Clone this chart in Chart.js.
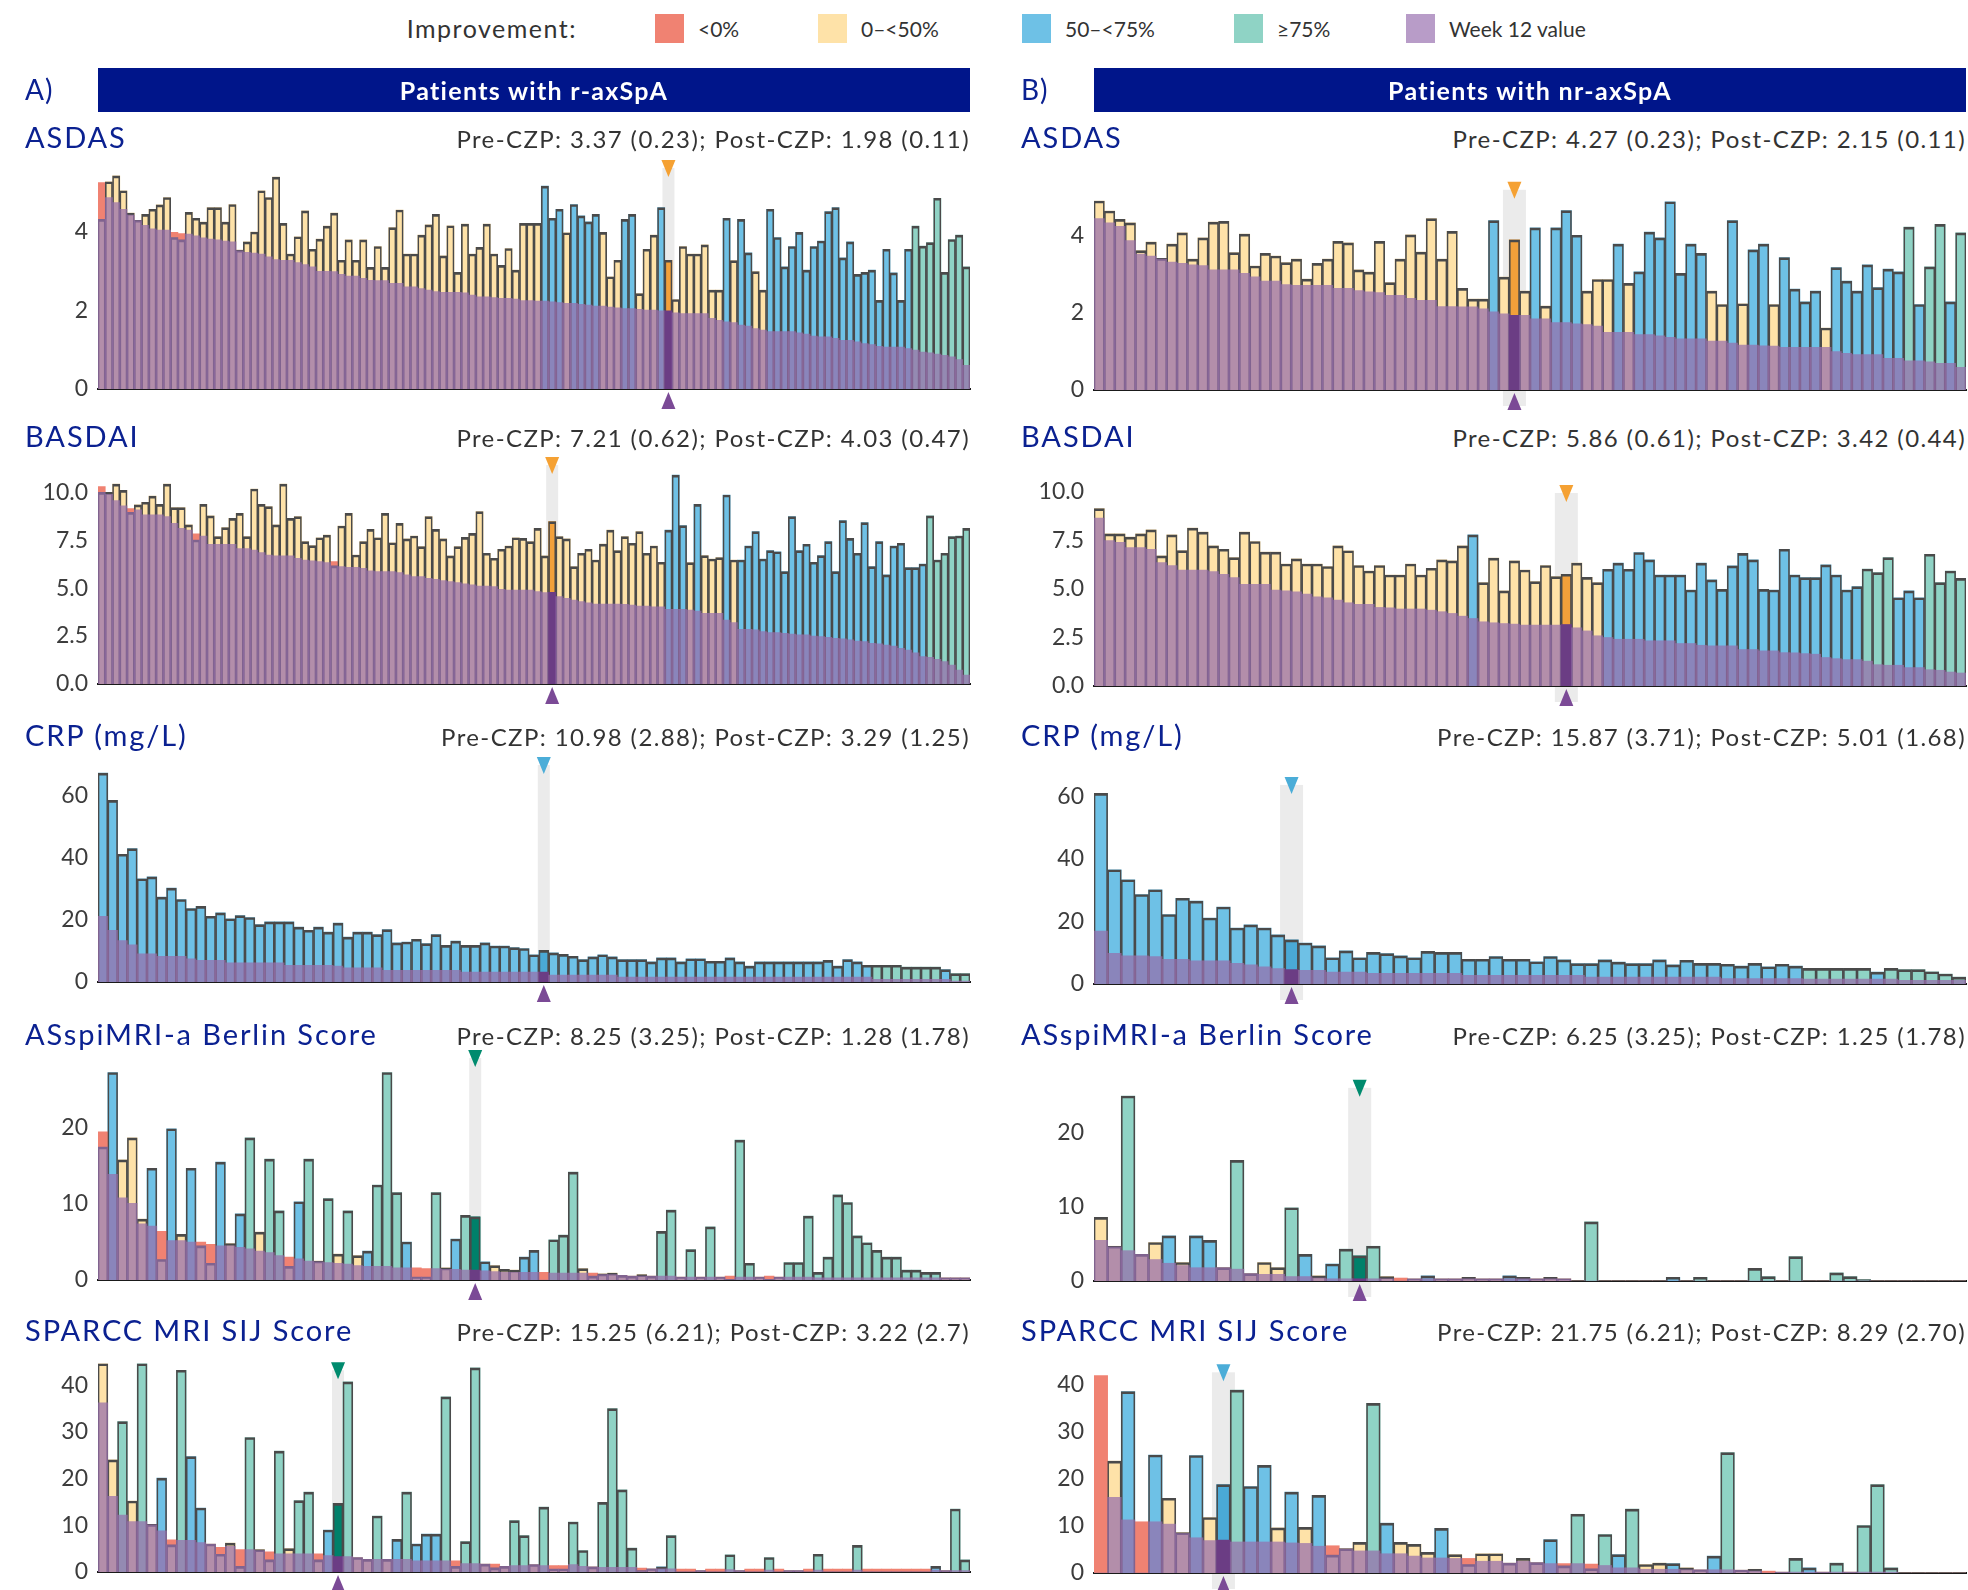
<!DOCTYPE html>
<html>
<head>
<meta charset="utf-8">
<script src="https://cdn.jsdelivr.net/npm/chart.js"></script>
<style>
  html, body { margin: 0; padding: 0; background: #fff; }
  body { width: 1968px; height: 1590px; position: relative; overflow: hidden; font-family: Lato, "Open Sans", sans-serif; }
  .t { position: absolute; white-space: nowrap; }
  .sw { position: absolute; width: 29px; height: 29px; }
  .bar { position: absolute; background: #00158a; color: #fff; font-weight: 700; font-size: 25px; letter-spacing: 1.3px; text-align: center; }
  canvas { position: absolute; }
</style>
</head>
<body>
<script>
// tick labels
const asdasTicks = [0, 2, 4];
const basdaiTicks = [0, 2.5, 5, 7.5, 10];
const crpTicks = [0, 20, 40, 60];
const mriTicks = [0, 10, 20];
const sparccTicks = [0, 10, 20, 30, 40];

// improvement categories: R <0%, Y 0-<50%, B 50-<75%, T >=75%
function runs(spec) {
    const out = [];
    spec.split(" ").forEach(function (r) {
        const n = parseInt(r.slice(1), 10);
        for (let i = 0; i < n; i++) out.push(r[0]);
    });
    return out;
}

// ---- A) r-axSpA ----
const asdasA_base = [4.32,5.28,5.43,5.05,4.48,4.30,4.45,4.58,4.69,4.88, 3.86,3.80,4.50,4.35,4.25,4.62,4.62,4.25,4.70,3.54, 3.75,4.00,5.05,4.88,5.40,4.22,3.44,3.88,4.54,3.56, 3.82,4.15,4.48,3.28,3.80,3.28,3.80,3.10,3.63,3.10, 4.11,4.56,3.44,3.44,3.92,4.18,4.45,3.39,4.16,2.97, 4.20,3.44,3.61,4.20,3.44,3.15,3.58,3.03,4.22,4.22, 4.22,5.17,4.35,4.58,3.98,4.70,4.41,4.26,4.45,3.99, 2.86,3.28,4.32,4.45,2.43,3.56,3.92,4.62,3.28,2.28, 3.63,3.44,3.44,3.67,2.52,2.52,4.35,3.27,4.32,3.47, 2.99,2.52,4.58,3.86,3.11,3.63,3.99,3.03,3.63,3.77, 4.52,4.62,3.34,3.75,2.92,2.97,3.03,2.26,3.56,2.96, 2.26,3.56,4.15,3.64,3.73,4.86,2.97,3.81,3.92,3.11];
const asdasA_w12 = [5.26,4.88,4.75,4.58,4.43,4.29,4.17,4.08,4.05,4.05, 3.99,3.96,3.95,3.90,3.85,3.82,3.80,3.77,3.75,3.52, 3.48,3.46,3.44,3.37,3.30,3.28,3.28,3.22,3.17,3.11, 3.00,3.00,2.99,2.92,2.88,2.88,2.82,2.77,2.76,2.76, 2.69,2.69,2.60,2.60,2.56,2.52,2.48,2.46,2.46,2.46, 2.45,2.39,2.35,2.35,2.33,2.31,2.31,2.29,2.25,2.25, 2.24,2.24,2.22,2.20,2.18,2.18,2.16,2.14,2.11,2.11, 2.09,2.07,2.05,2.05,2.03,2.01,2.01,1.99,1.99,1.94, 1.92,1.92,1.92,1.92,1.80,1.75,1.71,1.69,1.63,1.60, 1.54,1.50,1.46,1.46,1.46,1.46,1.43,1.40,1.35,1.33, 1.33,1.29,1.24,1.24,1.20,1.16,1.13,1.09,1.07,1.07, 1.07,1.03,0.99,0.94,0.92,0.89,0.86,0.82,0.75,0.60];
const asdasA_cat = runs("R1 Y9 R2 Y49 B3 Y1 B4 Y3 B2 Y3 B1 Y8 B1 Y1 B2 Y2 B20 T8");
const asdasA_hi = 78;

const basdaiA_base = [10.0,10.0,10.43,10.1,8.95,9.34,9.48,9.8,9.37,10.43, 9.2,9.2,8.3,7.51,9.37,8.77,7.69,8.16,8.64,8.9, 7.69,10.17,9.37,9.25,8.3,10.43,8.64,8.73,7.43,7.22, 7.63,7.77,6.16,8.24,8.9,6.73,7.43,8.07,7.63,8.9, 7.37,8.38,7.57,7.72,7.17,8.73,8.07,7.57,6.68,7.17, 7.65,7.86,8.99,6.82,6.56,7.03,7.2,7.63,7.6,7.43, 8.12,6.68,8.47,7.69,7.57,6.12,6.82,7.03,6.47,7.3, 8.03,6.96,7.69,7.34,7.95,6.82,7.2,6.35,8.03,10.9, 8.26,6.33,9.37,6.7,6.52,6.59,9.86,6.47,6.47,7.2, 7.95,6.52,6.96,6.9,5.86,8.73,6.96,7.29,6.35,6.7, 7.43,5.86,8.52,7.6,6.82,8.42,6.12,7.43,5.69,7.2, 7.34,6.07,6.07,6.26,8.77,6.47,6.82,7.69,7.72,8.12];
const basdaiA_w12 = [10.3,9.9,9.57,9.3,9.15,9.08,8.82,8.82,8.82,8.73, 8.38,8.12,8.03,7.83,7.72,7.29,7.29,7.29,7.29,7.06, 7.06,6.99,6.85,6.73,6.68,6.68,6.68,6.56,6.47,6.42, 6.38,6.33,6.38,6.12,6.09,6.09,6.03,5.9,5.86,5.86, 5.86,5.81,5.69,5.6,5.6,5.51,5.46,5.39,5.34,5.29, 5.22,5.17,5.11,5.11,5.08,4.94,4.9,4.9,4.9,4.9, 4.82,4.77,4.78,4.56,4.47,4.38,4.3,4.24,4.17,4.17, 4.17,4.17,4.16,4.12,4.07,4.07,4.03,4.03,3.9,3.9, 3.9,3.86,3.81,3.69,3.69,3.69,3.34,3.2,2.85,2.85, 2.82,2.73,2.68,2.68,2.64,2.61,2.56,2.56,2.5,2.47, 2.43,2.38,2.35,2.3,2.24,2.21,2.12,2.09,2.03,1.98, 1.86,1.77,1.63,1.43,1.39,1.29,1.17,0.99,0.73,0.47];
const basdaiA_cat = runs("R1 Y3 R1 Y8 R1 Y18 R1 Y45 B3 Y1 B1 Y3 B1 Y1 B26 T6");
const basdaiA_hi = 62;

const crpA_base = [67.4,58.6,41.2,43.0,33.3,33.9,27.4,30.3,26.6,23.7, 24.4,21.2,22.3,20.4,21.4,20.8,18.5,19.4,19.4,19.4, 17.7,16.7,17.7,16.1,19.0,14.5,16.1,16.1,15.3,16.9, 12.6,12.9,13.8,12.4,15.3,11.8,13.2,11.8,11.8,12.6, 11.6,11.6,11.1,10.8,8.8,10.2,9.4,8.9,8.3,7.2, 8.1,8.8,8.1,7.2,7.2,7.2,6.5,7.8,7.8,6.5, 7.5,7.5,6.7,6.7,7.8,6.5,5.1,6.5,6.5,6.5, 6.5,6.5,6.5,6.5,7.0,5.1,7.2,6.5,5.4,5.4, 5.4,5.4,4.8,4.8,4.8,4.8,4.0,2.7,2.7];
const crpA_w12 = [21.2,16.7,13.4,12.0,9.1,9.1,8.3,8.3,8.3,7.5, 7.0,7.0,7.0,6.2,6.2,6.2,6.2,6.2,6.2,5.4, 5.4,5.4,5.4,5.4,5.1,4.6,4.6,4.6,4.6,3.8, 3.8,3.8,3.8,3.8,3.8,3.8,3.8,3.2,3.2,3.2, 3.2,3.2,3.2,3.2,3.2,3.2,2.2,2.2,2.2,2.2, 2.2,2.2,2.2,1.6,1.6,1.6,1.6,1.6,1.6,1.6, 1.6,1.6,1.6,1.6,1.6,1.6,1.6,1.6,1.6,1.6, 1.6,1.6,1.6,1.6,1.6,1.6,1.6,1.6,1.6,0.9, 0.9,0.9,0.9,0.9,0.9,0.9,0.9,0.3,0.3];
const crpA_cat = runs("B79 T7 B1 T2");
const crpA_hi = 45;

const mriA_base = [17.5,27.3,15.8,18.7,8.0,14.7,2.7,19.9,6.0,14.7, 4.5,2.2,15.5,4.8,8.7,18.7,6.3,15.9,9.1,1.8, 10.3,15.9,2.5,10.7,3.4,9.1,3.2,3.8,12.5,27.3, 11.5,5.0,0.4,0.4,11.5,1.6,5.4,8.5,8.3,2.4, 1.9,1.4,1.3,3.0,3.9,0.0,5.3,5.9,14.2,1.5, 0.5,0.8,0.9,0.6,0.5,0.7,0.5,6.4,9.2,0.4, 4.0,0.4,7.0,0.4,0.1,18.4,2.2,0.4,0.1,0.4, 2.3,2.3,8.4,1.0,3.0,11.2,10.2,5.8,4.9,3.9, 3.0,3.0,1.3,1.3,1.0,1.0,0.3,0.3,0.3];
const mriA_w12 = [19.5,13.9,10.8,10.1,7.4,7.1,6.4,5.2,5.2,5.0, 5.0,4.7,4.5,4.5,4.3,4.1,3.8,3.6,3.2,3.0, 2.8,2.5,2.4,2.3,2.2,2.1,1.9,1.8,1.8,1.8, 1.6,1.6,1.6,1.5,1.5,1.4,1.4,1.3,1.3,1.2, 1.1,1.0,1.0,1.0,1.0,1.0,0.9,0.9,0.9,0.9, 0.9,0.7,0.7,0.6,0.5,0.5,0.5,0.5,0.5,0.4, 0.4,0.4,0.4,0.4,0.5,0.4,0.4,0.4,0.5,0.4, 0.4,0.4,0.4,0.3,0.3,0.3,0.3,0.3,0.3,0.3, 0.3,0.3,0.3,0.3,0.3,0.3,0.3,0.3,0.3];
const mriA_cat = runs("R1 B1 Y3 B1 R1 B1 Y1 B1 R2 B1 Y1 B1 T1 Y1 T2 R1 B1 T1 Y1 T1 Y1 T1 Y1 B1 T3 B1 R2 T1 Y1 B1 T2 B1 Y3 B2 R1 T3 Y1 R1 Y6 T2 Y1 T1 Y1 T1 Y1 R1 T2 Y1 R1 Y1 T16 Y3");
const mriA_hi = 38;

const sparccA_base = [44.6,24.0,32.2,15.2,44.6,10.2,20.1,5.8,43.2,24.7, 13.7,6.0,3.8,6.2,1.2,28.8,4.8,2.6,25.9,5.0, 15.3,17.1,2.6,9.0,14.7,40.7,3.1,2.7,12.0,2.7, 7.0,17.1,6.0,8.1,8.1,37.5,1.2,6.5,43.7,1.7, 0.9,1.2,11.0,7.8,1.6,13.9,0.6,0.6,10.7,4.6, 1.1,14.9,35.0,17.6,5.1,0.3,0.7,1.1,7.8,0.05, 0.05,0.3,0.05,0.05,3.7,0.3,0.05,0.05,3.1,0.05, 0.3,0.3,0.05,3.8,0.05,0.05,0.05,5.7,0.05,0.05, 0.05,0.05,0.05,0.05,0.05,1.2,0.3,13.5,2.6];
const sparccA_w12 = [36.2,16.2,12.2,10.8,10.8,10.1,8.8,6.9,6.8,6.8, 6.3,6.0,5.3,5.5,4.8,4.8,4.6,4.3,3.9,3.9, 3.9,3.9,3.9,3.5,3.3,3.3,3.1,2.7,2.7,2.7, 2.7,2.7,2.4,2.4,2.4,2.4,2.4,1.8,1.8,1.7, 1.7,1.2,1.4,1.4,1.6,1.4,1.35,1.35,1.6,1.2, 1.1,1.0,1.0,1.0,1.0,0.85,0.7,0.7,0.7,0.6, 0.6,0.3,0.6,0.6,0.5,0.3,0.6,0.6,0.4,0.6, 0.3,0.3,0.6,0.4,0.6,0.6,0.6,0.4,0.6,0.6, 0.6,0.6,0.6,0.6,0.6,0.4,0.3,0.3,0.3];
const sparccA_cat = runs("Y2 T1 Y1 T1 Y1 B1 R1 T1 B2 Y1 R1 Y1 R1 T1 Y1 R1 T1 Y1 T2 R1 B1 T2 Y2 T1 Y1 B1 T1 B3 T1 R1 T2 Y1 R1 Y1 T2 Y1 T1 R2 T2 Y1 T4 R1 Y1 B1 T1 R2 Y1 R2 T1 Y1 R2 T1 R1 Y2 R1 T1 R3 T1 R7 B1 Y1 T2");
const sparccA_hi = 24;

// ---- B) nr-axSpA ----
const asdasB_base = [4.91,4.65,4.43,4.34,3.62,3.84,3.42,3.79,4.08,3.40, 3.95,4.36,4.38,3.57,4.05,3.22,3.55,3.48,3.31,3.40, 2.88,3.29,3.40,3.86,3.82,3.12,3.06,3.86,2.79,3.40, 4.03,3.58,4.45,3.40,4.12,2.64,2.36,2.36,4.40,2.93, 3.90,2.57,4.21,2.18,4.21,4.66,4.02,2.57,2.87,2.87, 3.79,2.77,3.07,4.10,3.95,4.89,3.03,3.79,3.55,2.57, 2.22,4.40,2.24,3.64,3.79,2.22,3.44,2.62,2.29,2.57, 1.61,3.18,2.83,2.57,3.25,2.66,3.14,3.07,4.23,2.22, 3.20,4.30,2.29,4.08];
const asdasB_w12 = [4.45,4.34,4.25,3.88,3.53,3.48,3.40,3.32,3.29,3.25, 3.23,3.12,3.12,3.12,3.03,2.94,2.83,2.83,2.74,2.72, 2.72,2.72,2.72,2.64,2.64,2.58,2.55,2.53,2.46,2.46, 2.38,2.33,2.33,2.17,2.17,2.16,2.16,2.11,2.03,1.98, 1.94,1.94,1.85,1.85,1.75,1.75,1.72,1.70,1.66,1.50, 1.50,1.50,1.44,1.44,1.41,1.37,1.33,1.33,1.33,1.27, 1.27,1.22,1.17,1.17,1.15,1.14,1.11,1.11,1.11,1.11, 1.11,1.00,0.95,0.92,0.92,0.92,0.82,0.82,0.76,0.76, 0.73,0.69,0.69,0.59];
const asdasB_cat = runs("Y38 B1 Y3 B1 Y1 B3 Y3 B1 Y1 B7 Y2 B1 Y1 B2 Y1 B4 Y1 B7 T1 B1 T2 B1 T1");
const asdasB_hi = 40;

const basdaiB_base = [9.14,7.84,7.84,7.67,7.84,8.05,6.71,7.79,6.98,8.14, 7.93,7.22,7.05,6.62,7.93,7.45,6.90,6.90,6.29,6.55, 6.29,6.29,6.16,7.22,6.97,6.21,5.93,6.21,5.72,5.72, 6.29,5.72,6.07,6.50,6.45,7.22,7.79,5.33,6.59,4.90, 6.45,5.98,5.38,6.21,5.64,5.76,6.33,5.60,5.33,6.02, 6.33,6.02,6.88,6.50,5.72,5.72,5.72,4.95,6.33,5.47, 4.98,6.19,6.84,6.50,4.98,4.95,7.05,5.72,5.59,5.59, 6.24,5.72,4.95,5.12,6.03,5.84,6.62,4.55,4.90,4.55, 6.79,5.33,5.93,5.55];
const basdaiB_w12 = [8.66,7.50,7.40,7.14,7.14,7.05,6.36,6.21,5.98,5.98, 5.98,5.90,5.76,5.59,5.24,5.24,5.24,4.95,4.90,4.86, 4.74,4.60,4.55,4.43,4.29,4.21,4.21,4.05,4.03,3.97, 3.97,3.97,3.91,3.83,3.74,3.60,3.48,3.31,3.26,3.22, 3.19,3.14,3.14,3.14,3.14,3.17,3.00,2.84,2.59,2.50, 2.41,2.41,2.41,2.33,2.33,2.33,2.19,2.19,2.10,2.07, 2.07,2.07,1.88,1.88,1.81,1.81,1.72,1.71,1.67,1.64, 1.47,1.41,1.36,1.36,1.28,1.10,1.07,1.07,0.95,0.95, 0.84,0.81,0.72,0.67];
const basdaiB_cat = runs("Y36 B1 Y12 B25 T3 B3 T4");
const basdaiB_hi = 45;

const crpB_base = [60.9,36.5,33.3,28.6,30.1,22.2,27.4,26.5,21.1,24.6, 17.9,18.9,17.9,15.7,14.1,13.1,12.2,8.4,10.6,8.4, 10.1,9.7,9.0,8.4,10.4,10.1,10.1,7.9,7.9,8.8, 7.9,7.9,7.1,8.8,7.7,6.5,6.5,7.7,7.0,6.5, 6.5,7.7,6.1,7.6,6.6,6.6,6.3,5.7,6.6,5.5, 6.3,5.7,5.0,5.0,5.0,5.0,5.0,3.8,5.0,4.6, 4.6,3.9,3.2,2.2];
const crpB_w12 = [16.9,9.8,9.0,9.0,8.8,7.9,7.9,7.4,7.4,7.4, 6.6,6.1,5.5,4.9,4.6,4.4,4.4,3.8,3.8,3.8, 3.4,3.4,3.4,3.4,3.4,3.4,3.4,2.8,2.8,2.8, 2.8,2.8,2.8,2.8,2.8,2.8,2.2,2.2,2.2,2.2, 2.2,2.2,2.2,2.2,2.2,2.2,1.7,1.7,1.7,1.7, 1.7,1.7,1.6,1.6,1.6,1.6,1.6,1.6,1.6,1.2, 1.2,1.2,1.2,1.2];
const crpB_cat = runs("B52 T5 B1 T6");
const crpB_hi = 14;

const mriB_base = [8.6,4.7,25.0,3.6,5.2,6.1,2.5,6.1,5.5,1.8, 16.3,1.0,2.5,1.8,9.9,3.6,0.7,2.3,4.3,3.4, 4.7,0.6,0.0,0.3,0.7,0.3,0.3,0.5,0.3,0.3, 0.7,0.5,0.3,0.5,0.3,0,8.0,0,0,0, 0,0,0.5,0,0.5,0,0,0,1.7,0.6, 0,3.3,0,0,1.1,0.6,0.2,0,0,0, 0,0,0,0];
const mriB_w12 = [5.5,4.6,4.1,3.6,2.9,2.4,2.1,1.8,1.8,1.8, 1.6,1.0,0.9,0.9,0.6,0.6,0.4,0.3,0.3,0.3, 0.3,0.3,0.4,0.3,0.3,0.3,0.3,0.3,0.3,0.3, 0.3,0.3,0.3,0.3,0.3,0,0,0,0,0, 0,0,0,0,0,0,0,0,0,0, 0,0,0,0,0,0,0,0,0,0, 0,0,0,0];
const mriB_cat = runs("Y2 T1 Y2 B1 Y1 B2 Y1 T1 Y3 T1 B1 Y1 B1 T3 Y1 R1 Y1 B1 Y5 B2 Y4 T1 Y5 B1 Y1 T1 Y3 T2 Y1 T1 Y2 T3 Y7");
const mriB_hi = 19;

const sparccB_base = [0,23.8,38.6,0,25.1,15.9,8.6,25.0,11.8,18.8, 38.9,18.4,22.9,9.6,17.2,9.7,16.5,3.8,5.2,6.5, 36.1,10.6,6.5,6.1,4.4,9.5,3.9,1.8,4.1,4.1, 2.1,3.1,2.2,7.1,1.5,12.5,0.9,8.2,3.9,13.6, 1.8,2.1,2.0,1.1,0.7,3.6,25.6,0.6,0.8,0, 0.2,3.1,1.1,0.2,2.1,0.2,10.1,18.8,1.1,0, 0,0,0,0];
const sparccB_w12 = [42.0,16.1,11.3,10.9,10.9,10.4,8.4,7.5,6.9,7.0, 6.6,6.6,6.6,6.6,6.4,6.3,5.7,5.8,5.1,4.7, 4.7,4.1,4.1,3.6,3.2,3.2,3.1,3.1,2.5,2.5, 2.1,2.5,2.2,2.0,2.0,2.0,1.9,1.6,1.1,1.1, 0.8,0.8,0.8,0.7,0.7,0.7,0.7,0.6,0.4,0.4, 0.2,0.2,0.2,0.2,0.2,0.2,0.2,0.2,0.2,0, 0,0,0,0];
const sparccB_cat = runs("R1 Y1 B1 R1 B1 Y2 B1 Y1 B1 T1 B2 Y1 B1 Y1 B1 R1 Y2 T1 B1 Y3 B1 Y1 R1 Y5 B1 R1 T1 R1 T1 B1 T1 Y2 B1 Y2 B1 T1 Y2 R1 Y1 T1 B1 Y1 T1 Y1 T3 Y5");
const sparccB_hi = 9;

const COL = { R: "#f08272", Y: "#fee2a8", B: "#6ec1e6", T: "#8fd3c5" };
const HI_COL = { R: "#e0604e", Y: "#f2a03a", B: "#4aa9d6", T: "#00806a" };
const TRI_COL = { R: "#e0604e", Y: "#f5a133", B: "#4badd8", T: "#008b6e" };
const PURPLE = "rgba(150,110,170,0.72)";
const HI_PURPLE = "#6b3d84";
const OUTLINE = "#4a4a4a";

const panels = [
    { col: 0, title: "ASDAS", stats: "Pre-CZP: 3.37 (0.23); Post-CZP: 1.98 (0.11)", base: asdasA_base, w12: asdasA_w12, cat: asdasA_cat, hi: asdasA_hi, ticks: asdasTicks, dec: 0, axisY: 389, unit: 39.25, yMax: 5.8, bandTop: 5.63, textY: 137 },
    { col: 0, title: "BASDAI", stats: "Pre-CZP: 7.21 (0.62); Post-CZP: 4.03 (0.47)", base: basdaiA_base, w12: basdaiA_w12, cat: basdaiA_cat, hi: basdaiA_hi, ticks: basdaiTicks, dec: 1, axisY: 684, unit: 19.17, yMax: 11.8, bandTop: 11.42, textY: 436 },
    { col: 0, title: "CRP (mg/L)", stats: "Pre-CZP: 10.98 (2.88); Post-CZP: 3.29 (1.25)", base: crpA_base, w12: crpA_w12, cat: crpA_cat, hi: crpA_hi, ticks: crpTicks, dec: 0, axisY: 982, unit: 3.1, yMax: 72, bandTop: 70, textY: 735 },
    { col: 0, title: "ASspiMRI-a Berlin Score", stats: "Pre-CZP: 8.25 (3.25); Post-CZP: 1.28 (1.78)", base: mriA_base, w12: mriA_w12, cat: mriA_cat, hi: mriA_hi, ticks: mriTicks, dec: 0, axisY: 1280, unit: 7.6, yMax: 29.5, bandTop: 29.2, textY: 1034 },
    { col: 0, title: "SPARCC MRI SIJ Score", stats: "Pre-CZP: 15.25 (6.21); Post-CZP: 3.22 (2.7)", base: sparccA_base, w12: sparccA_w12, cat: sparccA_cat, hi: sparccA_hi, ticks: sparccTicks, dec: 0, axisY: 1572, unit: 4.67, yMax: 45.5, bandTop: 43.2, textY: 1330 },
    { col: 1, title: "ASDAS", stats: "Pre-CZP: 4.27 (0.23); Post-CZP: 2.15 (0.11)", base: asdasB_base, w12: asdasB_w12, cat: asdasB_cat, hi: asdasB_hi, ticks: asdasTicks, dec: 0, axisY: 390, unit: 38.5, yMax: 5.2, bandTop: 5.2, textY: 137 },
    { col: 1, title: "BASDAI", stats: "Pre-CZP: 5.86 (0.61); Post-CZP: 3.42 (0.44)", base: basdaiB_base, w12: basdaiB_w12, cat: basdaiB_cat, hi: basdaiB_hi, ticks: basdaiTicks, dec: 1, axisY: 686, unit: 19.4, yMax: 10.2, bandTop: 9.95, textY: 436 },
    { col: 1, title: "CRP (mg/L)", stats: "Pre-CZP: 15.87 (3.71); Post-CZP: 5.01 (1.68)", base: crpB_base, w12: crpB_w12, cat: crpB_cat, hi: crpB_hi, ticks: crpTicks, dec: 0, axisY: 984, unit: 3.13, yMax: 64, bandTop: 63.6, textY: 735 },
    { col: 1, title: "ASspiMRI-a Berlin Score", stats: "Pre-CZP: 6.25 (3.25); Post-CZP: 1.25 (1.78)", base: mriB_base, w12: mriB_w12, cat: mriB_cat, hi: mriB_hi, ticks: mriTicks, dec: 0, axisY: 1281, unit: 7.4, yMax: 26.2, bandTop: 26.1, textY: 1034 },
    { col: 1, title: "SPARCC MRI SIJ Score", stats: "Pre-CZP: 21.75 (6.21); Post-CZP: 8.29 (2.70)", base: sparccB_base, w12: sparccB_w12, cat: sparccB_cat, hi: sparccB_hi, ticks: sparccTicks, dec: 0, axisY: 1573, unit: 4.7, yMax: 43, bandTop: 42.7, textY: 1330 },
];

function addText(txt, x, y, css, alignRight) {
    const d = document.createElement("div");
    d.className = "t";
    d.textContent = txt;
    d.style.cssText = css + ";top:" + (y - 20) + "px;height:40px;line-height:40px;" +
        (alignRight ? "right:" + (1968 - x) + "px" : "left:" + x + "px");
    document.body.appendChild(d);
}

function drawPanel(p) {
    const PAD_T = 30, PAD_B = 28;
    const areaH = p.yMax * p.unit;
    const top = Math.round(p.axisY - areaH) - PAD_T;
    const h = Math.round(p.axisY) - top + PAD_B;
    const yW = p.col ? 110 : 98;
    const bandW = p.col ? 23 : 12;

    const canvas = document.createElement("canvas");
    canvas.width = 984;
    canvas.height = h;
    canvas.style.left = (p.col ? 984 : 0) + "px";
    canvas.style.top = top + "px";
    canvas.style.width = "984px";
    canvas.style.height = h + "px";
    document.body.appendChild(canvas);

    // worse-than-baseline patients: red part sits between baseline and week 12
    const worse = p.base.map((b, i) => (p.cat[i] === "R" && p.w12[i] > b ? [b, p.w12[i]] : null));
    const low = p.base.map((b, i) => Math.min(b, p.w12[i]));
    const fillColors = p.cat.map((c, i) => (i === p.hi ? HI_COL[c] : c === "R" ? COL.Y : COL[c]));
    const purpleColors = p.cat.map((c, i) => (i === p.hi ? HI_PURPLE : PURPLE));
    const common = { grouped: false, categoryPercentage: 1, barPercentage: 1 };

    const mark = {
        id: "mark",
        beforeDraw(chart) {
            const xs = chart.scales.x, ys = chart.scales.y, ctx = chart.ctx;
            const cx = xs.getPixelForValue(p.hi);
            const yt = ys.getPixelForValue(p.bandTop);
            const yb = chart.chartArea.bottom + (p.col ? 16 : 0);
            ctx.save();
            ctx.fillStyle = "#ebebeb";
            ctx.fillRect(cx - bandW / 2, yt, bandW, yb - yt);
            ctx.restore();
        },
        afterDraw(chart) {
            const xs = chart.scales.x, ys = chart.scales.y, ctx = chart.ctx;
            const cx = xs.getPixelForValue(p.hi);
            const ty = ys.getPixelForValue(p.bandTop) - 8;
            const by = chart.chartArea.bottom;
            ctx.save();
            ctx.fillStyle = TRI_COL[p.cat[p.hi]];
            ctx.beginPath();
            ctx.moveTo(cx - 7, ty);
            ctx.lineTo(cx + 7, ty);
            ctx.lineTo(cx, ty + 17);
            ctx.closePath();
            ctx.fill();
            ctx.fillStyle = "#7b4a96";
            ctx.beginPath();
            ctx.moveTo(cx, by + 3);
            ctx.lineTo(cx + 7, by + 20);
            ctx.lineTo(cx - 7, by + 20);
            ctx.closePath();
            ctx.fill();
            ctx.restore();
        },
    };

    new Chart(canvas, {
        type: "bar",
        data: {
            labels: p.base.map((_, i) => i + 1),
            datasets: [
                Object.assign({ label: "Week 12 value", data: low, backgroundColor: purpleColors, borderWidth: 0, order: 0 }, common),
                Object.assign({ label: "Baseline outline", data: p.base, backgroundColor: "rgba(0,0,0,0)", borderColor: OUTLINE, borderWidth: { top: 2, left: 1, right: 1, bottom: 0 }, order: 1 }, common),
                Object.assign({ label: "<0%", data: worse, backgroundColor: COL.R, borderWidth: 0, order: 2 }, common),
                Object.assign({ label: "Baseline", data: p.base, backgroundColor: fillColors, borderWidth: 0, order: 3 }, common),
            ],
        },
        options: {
            responsive: false,
            animation: false,
            devicePixelRatio: 1,
            layout: { padding: { top: (p.axisY - areaH) - top, bottom: PAD_B, left: 0, right: p.col ? 2 : 14 } },
            plugins: { legend: { display: false }, tooltip: { enabled: false } },
            scales: {
                x: {
                    grid: { display: false, drawTicks: false },
                    ticks: { display: false },
                    border: { display: true, color: "#1a1a1a", width: 2 },
                    afterFit: (s) => { s.height = 0; },
                },
                y: {
                    min: 0,
                    max: p.yMax,
                    grid: { display: false, drawTicks: false },
                    border: { display: false },
                    ticks: {
                        padding: 10,
                        color: "#3c3c3c",
                        font: { family: "Lato", size: 23 },
                        callback: (v) => Number(v).toFixed(p.dec),
                    },
                    afterBuildTicks: (s) => { s.ticks = p.ticks.map((v) => ({ value: v })); },
                    afterFit: (s) => { s.width = yW; },
                },
            },
        },
        plugins: [mark],
    });

    const x0 = p.col ? 1021 : 25;
    const x1 = p.col ? 1966 : 970;
    addText(p.title, x0, p.textY, "font-size:29px;letter-spacing:1.9px;color:#0b2191");
    addText(p.stats, x1, p.textY + 2, "font-size:24px;letter-spacing:1.4px;color:#333", true);
}

panels.forEach(drawPanel);

// headers
[["A)", 25, 98, 970, "Patients with r-axSpA"], ["B)", 1021, 1094, 1966, "Patients with nr-axSpA"]].forEach(function (h) {
    addText(h[0], h[1], 89, "font-size:28px;letter-spacing:1px;color:#0b2191");
    const b = document.createElement("div");
    b.className = "bar";
    b.textContent = h[4];
    b.style.cssText = "left:" + h[2] + "px;top:68px;width:" + (h[3] - h[2]) + "px;height:44px;line-height:44px";
    document.body.appendChild(b);
});

// legend
addText("Improvement:", 577, 28, "font-size:25px;letter-spacing:1.5px;color:#333", true);
const legendItems = [
    ["<0%", COL.R, 655],
    ["0\u2013<50%", COL.Y, 818],
    ["50\u2013<75%", COL.B, 1022],
    ["\u226575%", COL.T, 1234],
    ["Week 12 value", "#b89cc8", 1406],
];
legendItems.forEach(function (it) {
    const s = document.createElement("div");
    s.className = "sw";
    s.style.left = it[2] + "px";
    s.style.top = "14px";
    s.style.background = it[1];
    document.body.appendChild(s);
    addText(it[0], it[2] + 43, 29, "font-size:21px;color:#333");
});
</script>
</body>
</html>
